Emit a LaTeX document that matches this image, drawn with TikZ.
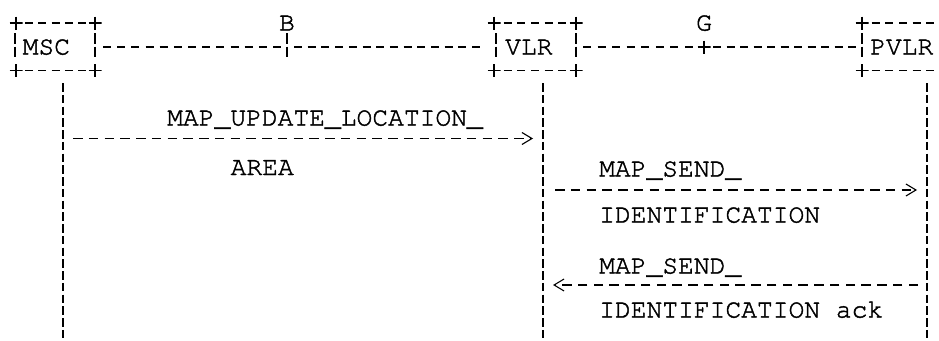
\documentclass[tikz,border=0pt]{standalone}
\usepackage{fontspec}
\usetikzlibrary{arrows.meta}
\newfontfamily\courfam[FakeBold=1.6]{texgyrecursor-regular.otf}
\newcommand\courfont{\courfam\fontsize{26.3pt}{28pt}\selectfont}
\tikzset{
  lbl/.style={inner sep=0pt, font=\courfont, anchor=base west},
  ctr/.style={inner sep=0pt, font=\courfont, anchor=base},
  corner/.style={inner sep=0pt, minimum size=13pt, anchor=center,
    path picture={\draw[line width=1.1pt]
      (path picture bounding box.north) -- (path picture bounding box.south)
      (path picture bounding box.west) -- (path picture bounding box.east);}},
  dsh/.style={line width=1.1pt, dash pattern=on 8pt off #1},
  side/.style={line width=1.1pt, dash pattern=on 10.5pt off 3pt},
  life/.style={line width=1.1pt, dash pattern=on 8.5pt off 3.25pt},
  msg/.style={line width=1.1pt, dash pattern=on 9.5pt off 6.25pt, -{Straight Barb[length=10pt,width=12pt]}},
}
\begin{document}
\begin{tikzpicture}[x=1pt,y=-1pt]
\useasboundingbox (0,0) rectangle (939,340);
% corners of the boxes
\foreach \n/\x/\y in {a/16/23, b/95/23, c/16/70.5, d/95/70.5,
                      e/494/23, f/576/23, g/494/70.5, h/576/70.5,
                      i/862/23, j/862/70.5, k/704/47}
  \node[corner] (plus\n) at (\x,\y) {};
% box borders
\draw[dsh=5.2pt] (25.2,23) -- (86,23);
\draw[dsh=5.2pt] (25.2,70.5) -- (86,70.5);
\draw[dsh=5.67pt] (503.7,23) -- (566.3,23);
\draw[dsh=5.67pt] (503.7,70.5) -- (566.3,70.5);
\draw[dsh=5.67pt] (871.7,23) -- (939,23);
\draw[dsh=5.67pt] (871.7,70.5) -- (939,70.5);
% box sides and interface marks
\foreach \x in {15,95,287,496,576,862}
  \draw[side] (\x,33) -- (\x,57);
% interface dashes
\draw[dsh=6.17pt] (103,47) -- (281,47);
\draw[dsh=5.7pt] (294,47) -- (480,47);
\draw[dsh=6.57pt] (583,47) -- (693,47);
\draw[dsh=5.5pt] (713,47) -- (856,47);
% entity names and interface labels
\node[lbl] (msc) at (22.5,54.5) {MSC};
\node[lbl] (vlr) at (505,54.5) {VLR};
\node[lbl] (pvlr) at (870,54.5) {PVLR};
\node[ctr] (ifB) at (287,30.5) {B};
\node[ctr] (ifG) at (704,30.5) {G};
% lifelines
\coordinate (mscT) at (63,83);   \coordinate (mscB) at (63,340);
\coordinate (vlrT) at (543,83);  \coordinate (vlrB) at (543,340);
\coordinate (pvlrT) at (927,83); \coordinate (pvlrB) at (927,340);
\draw[life] (mscT) -- (mscB);
\draw[life] (vlrT) -- (vlrB);
\draw[life] (pvlrT) -- (pvlrB);
% messages
\coordinate (m1s) at (73,138.5);  \coordinate (m1e) at (533,138.5);
\coordinate (m2s) at (555,190);   \coordinate (m2e) at (917,190);
\coordinate (m3s) at (918,285);   \coordinate (m3e) at (553,285);
\draw[msg] (m1s) -- (m1e);
\draw[msg] (m2s) -- (m2e);
\draw[msg] (m3s) -- (m3e);
\node[lbl] (t1a) at (167,125.5) {MAP\_UPDATE\_LOCATION\_};
\node[lbl] (t1b) at (230.5,175) {AREA};
\node[lbl] (t2a) at (599,176.5) {MAP\_SEND\_};
\node[lbl] (t2b) at (599,222.5) {IDENTIFICATION};
\node[lbl] (t3a) at (599,273.5) {MAP\_SEND\_};
\node[lbl] (t3b) at (599,317.5) {IDENTIFICATION ack};
\end{tikzpicture}
\end{document}
